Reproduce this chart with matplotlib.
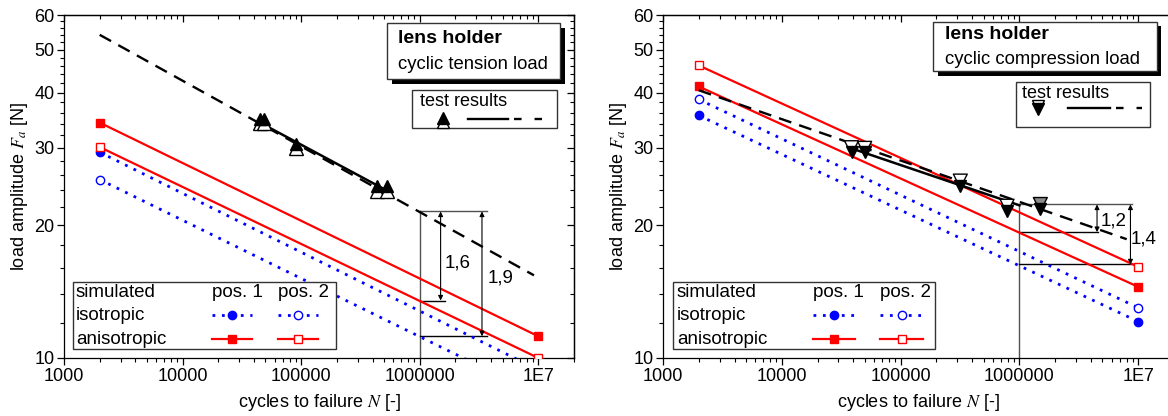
import matplotlib
matplotlib.use('Agg')
import matplotlib.pyplot as plt
import numpy as np
from matplotlib.patches import Rectangle
from matplotlib.ticker import FixedLocator, FixedFormatter, NullFormatter

plt.rcParams['font.family'] = ['Liberation Sans', 'DejaVu Sans']
plt.rcParams['mathtext.fontset'] = 'stix'

FS = 13

# ---------------- data ----------------
x_major = [1e3, 1e4, 1e5, 1e6, 1e7]
x_labels = ['1000', '10000', '100000', '1000000', '1E7']
y_major = [10, 20, 30, 40, 50, 60]
y_labels = ['10', '20', '30', '40', '50', '60']

N_ends = [2000, 1e7]

# left panel: cyclic tension load
L_iso1 = [29.3, 9.4]
L_iso2 = [25.4, 8.25]
L_ani1 = [34.2, 11.2]
L_ani2 = [30.1, 10.0]
L_fit_N = [2000, 9.2e6]
L_fit_F = [54.1, 15.4]
L_solid_N = [44000, 525000]
L_solid_F = [34.3, 24.0]
L_test_N = [45000, 48500, 90000, 440000, 525000]
L_test_F_filled = [34.9, 34.9, 30.6, 24.5, 24.5]
L_test_F_open = [34.1, 34.1, 29.9, 23.9, 23.9]
L_dim_N = 1e6
L_dim_top = 21.5
L_dim_mid = 13.5
L_dim_low = 11.2
L_dim_mid_end = 1.64e6
L_dim_low_end = 3.7e6
L_arrow_N = [1.5e6, 3.35e6]
L_ratio_labels = ['1,6', '1,9']
L_ratio_pos = [(2.1e6, 16.4), (4.8e6, 15.2)]

# right panel: cyclic compression load
R_iso1 = [35.5, 12.1]
R_iso2 = [38.6, 13.0]
R_ani1 = [41.3, 14.5]
R_ani2 = [46.1, 16.1]
R_fit_N = [2000, 8e6]
R_fit_F = [40.5, 18.6]
R_solid_N = [43000, 1e6]
R_solid_F = [29.6, 22.2]
R_test_N = [38600, 49800, 318000, 787000, 1.5e6]
R_test_F_open = [30.0, 29.9, 25.2, 22.1, 22.3]
R_test_F_filled = [29.4, 29.3, 24.6, 21.6, 21.8]
R_dim_N = 1e6
R_dim_top = 22.3
R_dim_mid = 19.3
R_dim_low = 16.3
R_dim_mid_end = 4.6e6
R_dim_low_end = 8.8e6
R_arrow_N = [4.5e6, 8.6e6]
R_ratio_labels = ['1,2', '1,4']
R_ratio_pos = [(6.2e6, 20.5), (1.1e7, 18.6)]

# ---------------- styles ----------------
BLUE = '#0000ff'
RED = '#ff0000'
DIMC = '#505050'
dot_ls = (0, (1, 2.4))
dash_ls = (0, (5.5, 3.5))

x_minor = [m * 10.0 ** e for e in range(3, 8) for m in range(2, 10) if m * 10.0 ** e <= 2e7]
y_minor = [v for v in range(12, 60, 2) if v not in y_major]


def style_axes(ax, right_ticks=True):
    ax.set_xscale('log')
    ax.set_yscale('log')
    ax.set_xlim(1000, 2e7)
    ax.set_ylim(10, 60)
    ax.xaxis.set_major_locator(FixedLocator(x_major))
    ax.xaxis.set_major_formatter(FixedFormatter(x_labels))
    ax.xaxis.set_minor_locator(FixedLocator(x_minor))
    ax.xaxis.set_minor_formatter(NullFormatter())
    ax.yaxis.set_major_locator(FixedLocator(y_major))
    ax.yaxis.set_major_formatter(FixedFormatter(y_labels))
    ax.yaxis.set_minor_locator(FixedLocator(y_minor))
    ax.yaxis.set_minor_formatter(NullFormatter())
    ax.tick_params(which='major', direction='out', length=5, width=0.9, labelsize=FS, pad=2)
    ax.tick_params(which='minor', direction='out', length=3, width=0.8)
    for s in ax.spines.values():
        s.set_linewidth(0.9)
    sx = ax.secondary_xaxis('top', functions=(lambda v: v, lambda v: v))
    sx.xaxis.set_major_locator(FixedLocator(x_major))
    sx.xaxis.set_minor_locator(FixedLocator(x_minor))
    sx.xaxis.set_major_formatter(NullFormatter())
    sx.xaxis.set_minor_formatter(NullFormatter())
    sx.tick_params(which='major', direction='in', length=5, width=0.9)
    sx.tick_params(which='minor', direction='in', length=3, width=0.8)
    secs = [sx]
    if right_ticks:
        sy = ax.secondary_yaxis('right', functions=(lambda v: v, lambda v: v))
        sy.yaxis.set_major_locator(FixedLocator(y_major))
        sy.yaxis.set_minor_locator(FixedLocator(y_minor))
        sy.yaxis.set_major_formatter(NullFormatter())
        sy.yaxis.set_minor_formatter(NullFormatter())
        sy.tick_params(which='major', direction='in', length=5, width=0.9)
        sy.tick_params(which='minor', direction='in', length=3, width=0.8)
        secs.append(sy)
    else:
        ax.spines['right'].set_visible(False)
    for sec in secs:
        for s in sec.spines.values():
            s.set_linewidth(0.9)
    ax.set_xlabel(r'cycles to failure $N$ [-]', fontsize=FS, labelpad=5)
    ax.set_ylabel(r'load amplitude $F_a$ [N]', fontsize=FS, labelpad=3)


def sim_lines(ax, iso1, iso2, ani1, ani2):
    ax.plot(N_ends, iso1, color=BLUE, lw=2.0, ls=dot_ls, marker='o', ms=6,
            mfc=BLUE, mec=BLUE, zorder=3)
    ax.plot(N_ends, iso2, color=BLUE, lw=2.0, ls=dot_ls, marker='o', ms=6,
            mfc='white', mec=BLUE, mew=1.0, zorder=3)
    ax.plot(N_ends, ani1, color=RED, lw=1.6, marker='s', ms=5.5,
            mfc=RED, mec=RED, zorder=3)
    ax.plot(N_ends, ani2, color=RED, lw=1.6, marker='s', ms=5.5,
            mfc='white', mec=RED, mew=1.0, zorder=3)


def dims(ax, n0, top, mid, low, mid_end, low_end, arrows, labels, lpos):
    top_end = low_end
    ax.plot([n0, n0], [top, 10], color=DIMC, lw=1.0, zorder=2)
    ax.plot([n0, top_end], [top, top], color=DIMC, lw=1.0, zorder=2)
    ax.plot([n0, mid_end], [mid, mid], color='black', lw=1.0, zorder=2)
    ax.plot([n0, low_end], [low, low], color='black', lw=1.0, zorder=2)
    for xa, yb in zip(arrows, [mid, low]):
        ax.annotate('', xy=(xa, yb), xytext=(xa, top),
                    arrowprops=dict(arrowstyle='<|-|>', color='black', lw=0.8,
                                    mutation_scale=7, shrinkA=0, shrinkB=0), zorder=4)
    for t, (xx, yy) in zip(labels, lpos):
        ax.text(xx, yy, t, fontsize=FS + 0.5, ha='center', va='center', zorder=4)


def title_box(ax, x0, x1, y0, y1, line2, tx, ty1, ty2):
    dx, dy = 0.0095, 0.014
    ax.add_patch(Rectangle((x0 + dx, y0 - dy), x1 - x0, y1 - y0, transform=ax.transAxes,
                           fc='black', ec='black', lw=0, zorder=6, clip_on=False))
    ax.add_patch(Rectangle((x0, y0), x1 - x0, y1 - y0, transform=ax.transAxes,
                           fc='white', ec='#333333', lw=1.0, zorder=7, clip_on=False))
    ax.text(tx, ty1, 'lens holder', transform=ax.transAxes, fontsize=14, fontweight='bold',
            va='center', ha='left', zorder=8)
    ax.text(tx, ty2, line2, transform=ax.transAxes, fontsize=13.3,
            va='center', ha='left', zorder=8)


def test_box(ax, x0, x1, y0, y1, tx, ty, mx, my, l0, l1, l2, up):
    ax.add_patch(Rectangle((x0, y0), x1 - x0, y1 - y0, transform=ax.transAxes,
                           fc='white', ec='#333333', lw=1.0, zorder=7))
    ax.text(tx, ty, 'test results', transform=ax.transAxes, fontsize=FS,
            va='center', ha='left', zorder=8)
    off = 0.008
    if up:
        ax.plot([mx], [my - off], transform=ax.transAxes, marker='^', ms=8.5, mfc='white',
                mec='black', mew=1.0, zorder=8, ls='none')
        ax.plot([mx], [my + off * 0.3], transform=ax.transAxes, marker='^', ms=8, mfc='black',
                mec='black', zorder=9, ls='none')
    else:
        ax.plot([mx], [my + off], transform=ax.transAxes, marker='v', ms=8.5, mfc='white',
                mec='black', mew=1.0, zorder=8, ls='none')
        ax.plot([mx], [my - off * 0.3], transform=ax.transAxes, marker='v', ms=8, mfc='black',
                mec='black', zorder=9, ls='none')
    ax.plot([l0, l1], [my, my], transform=ax.transAxes, color='black', lw=1.7, zorder=8)
    ax.plot([l1 + 0.012, l2], [my, my], transform=ax.transAxes, color='black', lw=1.7,
            ls=(0, (3.2, 5.5)), zorder=8)


def sim_legend(ax, x0, x1, y0, y1, xt, xp1, xp2, g1, g2, rows):
    ax.add_patch(Rectangle((x0, y0), x1 - x0, y1 - y0, transform=ax.transAxes,
                           fc='white', ec='#333333', lw=1.0, zorder=7))
    kw = dict(transform=ax.transAxes, fontsize=FS + 0.5, va='center', zorder=8)
    ax.text(xt, rows[0], 'simulated', **kw)
    ax.text(xt, rows[1], 'isotropic', **kw)
    ax.text(xt, rows[2], 'anisotropic', **kw)
    ax.text(xp1, rows[0], 'pos. 1', **kw)
    ax.text(xp2, rows[0], 'pos. 2', **kw)
    for (a, b), filled in zip([g1, g2], [True, False]):
        c = 0.5 * (a + b)
        ax.plot([a, b], [rows[1], rows[1]], transform=ax.transAxes, color=BLUE, lw=2.0,
                ls=dot_ls, zorder=8)
        ax.plot([c], [rows[1]], transform=ax.transAxes, marker='o', ms=6, ls='none',
                mfc=BLUE if filled else 'white', mec=BLUE, mew=1.0, zorder=9)
        ax.plot([a, b], [rows[2], rows[2]], transform=ax.transAxes, color=RED, lw=1.6, zorder=8)
        ax.plot([c], [rows[2]], transform=ax.transAxes, marker='s', ms=5.5, ls='none',
                mfc=RED if filled else 'white', mec=RED, mew=1.0, zorder=9)


fig = plt.figure(figsize=(11.68, 4.16), dpi=100)
axL = fig.add_axes([64 / 1168, 1 - 358 / 416, 510 / 1168, 343 / 416])
axR = fig.add_axes([663 / 1168, 1 - 358 / 416, 511 / 1168, 343 / 416])

# ---- left panel ----
sim_lines(axL, L_iso1, L_iso2, L_ani1, L_ani2)
axL.plot(L_fit_N, L_fit_F, color='black', lw=1.7, ls=dash_ls, zorder=3)
axL.plot(L_solid_N, L_solid_F, color='black', lw=1.8, zorder=3)
axL.plot(L_test_N, L_test_F_open, ls='none', marker='^', ms=10, mfc='white', mec='black',
         mew=1.0, zorder=4)
axL.plot(L_test_N, L_test_F_filled, ls='none', marker='^', ms=8.5, mfc='black', mec='black',
         zorder=5)
dims(axL, L_dim_N, L_dim_top, L_dim_mid, L_dim_low, L_dim_mid_end, L_dim_low_end,
     L_arrow_N, L_ratio_labels, L_ratio_pos)
title_box(axL, 0.633, 0.9725, 0.8125, 0.976, 'cyclic tension load', 0.655, 0.932, 0.857)
test_box(axL, 0.6817, 0.966, 0.67, 0.781, 0.698, 0.748, 0.7425, 0.697, 0.7915, 0.871, 0.937, True)
sim_legend(axL, 0.017, 0.533, 0.026, 0.222, 0.0235, 0.2896, 0.42,
           (0.29, 0.368), (0.42, 0.498), [0.190, 0.125, 0.055])
style_axes(axL)

# ---- right panel ----
sim_lines(axR, R_iso1, R_iso2, R_ani1, R_ani2)
axR.plot(R_fit_N, R_fit_F, color='black', lw=1.7, ls=dash_ls, zorder=3)
axR.plot(R_solid_N, R_solid_F, color='black', lw=1.8, zorder=3)
R_open_faces = ['white', 'white', 'white', 'white', '#8c8c8c']
axR.scatter(R_test_N, R_test_F_open, marker='v', s=100, c=R_open_faces, edgecolors='black',
            linewidths=1.0, zorder=4)
axR.plot(R_test_N, R_test_F_filled, ls='none', marker='v', ms=8.5, mfc='black', mec='black',
         zorder=5)
dims(axR, R_dim_N, R_dim_top, R_dim_mid, R_dim_low, R_dim_mid_end, R_dim_low_end,
     R_arrow_N, R_ratio_labels, R_ratio_pos)
title_box(axR, 0.529, 0.966, 0.836, 0.9805, 'cyclic compression load', 0.552, 0.944, 0.870)
test_box(axR, 0.690, 0.953, 0.674, 0.8055, 0.702, 0.770, 0.7345, 0.728, 0.793, 0.875, 0.937, False)
sim_legend(axR, 0.020, 0.532, 0.026, 0.222, 0.0274, 0.293, 0.4247,
           (0.293, 0.376), (0.425, 0.509), [0.190, 0.125, 0.055])
style_axes(axR, right_ticks=False)

fig.savefig('out.png', dpi=100)
